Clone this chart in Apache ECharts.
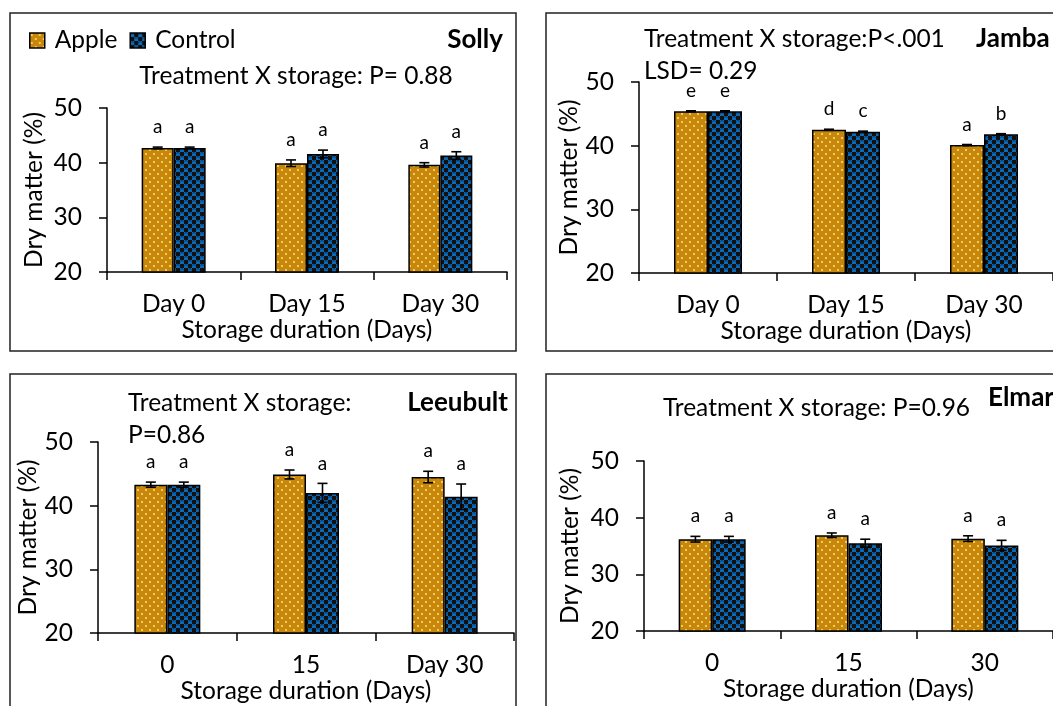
<!DOCTYPE html>
<html>
<head>
<meta charset="utf-8">
<script src="https://cdn.jsdelivr.net/npm/echarts@6/dist/echarts.min.js"></script>
<style>
  html, body { margin: 0; padding: 0; background: #fff; }
  #chart { width: 1053px; height: 706px; }
</style>
</head>
<body>
<div id="chart"></div>
<script>
// ---- data: dry matter (%) by storage duration, mean ± SE, with letter groups ----
const catsDay = ['Day 0', 'Day 15', 'Day 30'];
const catsLeeubult = ['0', '15', 'Day 30'];
const catsElmar = ['0', '15', '30'];
const yTicks = [20, 30, 40, 50];

const sollyApple = [42.7, 39.9, 39.6];
const sollyAppleErr = [0.15, 0.6, 0.4];
const sollyAppleLetters = ['a', 'a', 'a'];
const sollyControl = [42.7, 41.6, 41.3];
const sollyControlErr = [0.15, 0.7, 0.7];
const sollyControlLetters = ['a', 'a', 'a'];

const jambaApple = [45.4, 42.5, 40.1];
const jambaAppleErr = [0.08, 0.08, 0.08];
const jambaAppleLetters = ['e', 'd', 'a'];
const jambaControl = [45.4, 42.2, 41.8];
const jambaControlErr = [0.08, 0.08, 0.08];
const jambaControlLetters = ['e', 'c', 'b'];

const leeubultApple = [43.3, 44.9, 44.5];
const leeubultAppleErr = [0.4, 0.7, 0.9];
const leeubultAppleLetters = ['a', 'a', 'a'];
const leeubultControl = [43.3, 42.0, 41.4];
const leeubultControlErr = [0.4, 1.5, 2.0];
const leeubultControlLetters = ['a', 'a', 'a'];

const elmarApple = [36.2, 36.9, 36.3];
const elmarAppleErr = [0.5, 0.4, 0.5];
const elmarAppleLetters = ['a', 'a', 'a'];
const elmarControl = [36.2, 35.5, 35.1];
const elmarControlErr = [0.5, 0.7, 0.9];
const elmarControlLetters = ['a', 'a', 'a'];

// ---- fills ----
function makeApplePattern() {
  const c = document.createElement('canvas');
  c.width = 8; c.height = 8;
  const g = c.getContext('2d');
  g.fillStyle = '#C6870C';
  g.fillRect(0, 0, 8, 8);
  g.fillStyle = '#F3CB55';
  g.fillRect(1, 1, 2, 2);
  g.fillRect(5, 5, 2, 2);
  return c;
}
function makeControlPattern() {
  const c = document.createElement('canvas');
  c.width = 8; c.height = 8;
  const g = c.getContext('2d');
  g.fillStyle = '#0B6BB8';
  g.fillRect(0, 0, 8, 8);
  g.fillStyle = '#111';
  g.fillRect(4, 0, 4, 4);
  g.fillRect(0, 4, 4, 4);
  g.strokeStyle = '#06305a';
  g.lineWidth = 0.8;
  g.beginPath(); g.arc(2, 2.2, 1.6, Math.PI * 1.1, Math.PI * 1.9); g.stroke();
  g.beginPath(); g.arc(6, 6.2, 1.6, Math.PI * 1.1, Math.PI * 1.9); g.stroke();
  return c;
}
const appleFill = { image: makeApplePattern(), repeat: 'repeat' };
const controlFill = { image: makeControlPattern(), repeat: 'repeat' };

const FONT = 'Lato';
const FS = 24.5;
const FS_BOLD = 26;
const INK = '#000';

// ---- panel layout (plot rectangles in px) ----
const panels = [
  { cats: catsDay, grid: { left: 107, top: 108, width: 400, height: 164 }, barW: 32,
    apple: [sollyApple, sollyAppleErr, sollyAppleLetters], control: [sollyControl, sollyControlErr, sollyControlLetters],
    yNameGap: 60 },
  { cats: catsDay, grid: { left: 639, top: 82, width: 420, height: 191 }, barW: 34,
    apple: [jambaApple, jambaAppleErr, jambaAppleLetters], control: [jambaControl, jambaControlErr, jambaControlLetters],
    yNameGap: 55 },
  { cats: catsLeeubult, grid: { left: 98, top: 442, width: 416, height: 191 }, barW: 33,
    apple: [leeubultApple, leeubultAppleErr, leeubultAppleLetters], control: [leeubultControl, leeubultControlErr, leeubultControlLetters],
    yNameGap: 54 },
  { cats: catsElmar, grid: { left: 644, top: 461, width: 412, height: 170 }, barW: 33.5,
    apple: [elmarApple, elmarAppleErr, elmarAppleLetters], control: [elmarControl, elmarControlErr, elmarControlLetters],
    yNameGap: 61 }
];

const grids = [], xAxes = [], yAxes = [], series = [];

function errorSeries(name, idx, values, errs, letters, side, barW) {
  return {
    type: 'custom', name: name, xAxisIndex: idx, yAxisIndex: idx, z: 5, clip: false,
    data: values.map((v, i) => [i, v, errs[i]]),
    encode: { x: 0, y: 1 },
    renderItem: function (params, api) {
      const i = api.value(0), v = api.value(1), e = api.value(2);
      const hi = api.coord([i, v + e]);
      const lo = api.coord([i, v - e]);
      const x = hi[0] + side * barW / 2;
      const cap = 5;
      const st = { stroke: INK, lineWidth: 1.6 };
      return {
        type: 'group',
        children: [
          { type: 'line', shape: { x1: x, y1: hi[1], x2: x, y2: lo[1] }, style: st },
          { type: 'line', shape: { x1: x - cap, y1: hi[1], x2: x + cap, y2: hi[1] }, style: st },
          { type: 'line', shape: { x1: x - cap, y1: lo[1], x2: x + cap, y2: lo[1] }, style: st },
          { type: 'text', x: x, y: hi[1] - 20,
            style: { text: letters[params.dataIndex], fill: INK, font: '19px ' + FONT,
                     textAlign: 'center', textVerticalAlign: 'middle' } }
        ]
      };
    }
  };
}

panels.forEach((p, idx) => {
  grids.push(Object.assign({ containLabel: false }, p.grid));
  xAxes.push({
    type: 'category', gridIndex: idx, data: p.cats, boundaryGap: true,
    name: 'Storage duration (Days)', nameLocation: 'middle', nameGap: 46,
    nameTextStyle: { fontFamily: FONT, fontSize: FS, color: INK },
    axisLine: { lineStyle: { color: INK, width: 1.5 } },
    axisTick: { show: true, interval: 0, length: 8, lineStyle: { color: INK, width: 1.5 } },
    axisLabel: { interval: 0, margin: 20, fontFamily: FONT, fontSize: FS, color: INK },
    splitLine: { show: false }
  });
  yAxes.push({
    type: 'value', gridIndex: idx, min: yTicks[0], max: yTicks[yTicks.length - 1], interval: 10,
    name: 'Dry matter (%)', nameLocation: 'middle', nameGap: p.yNameGap, nameRotate: 90,
    nameTextStyle: { fontFamily: FONT, fontSize: FS, color: INK },
    axisLine: { show: true, lineStyle: { color: INK, width: 1.5 } },
    axisTick: { show: true, length: 8, lineStyle: { color: INK, width: 1.5 } },
    axisLabel: { margin: 25, fontFamily: FONT, fontSize: FS, color: INK },
    splitLine: { show: false }
  });
  const barCommon = { type: 'bar', xAxisIndex: idx, yAxisIndex: idx, barWidth: p.barW, barGap: '0%' };
  series.push(Object.assign({}, barCommon, {
    name: 'Apple', data: p.apple[0],
    itemStyle: { color: appleFill, borderColor: INK, borderWidth: 1.5 }
  }));
  series.push(Object.assign({}, barCommon, {
    name: 'Control', data: p.control[0],
    itemStyle: { color: controlFill, borderColor: INK, borderWidth: 1.5 }
  }));
  series.push(errorSeries('Apple', idx, p.apple[0], p.apple[1], p.apple[2], -1, p.barW));
  series.push(errorSeries('Control', idx, p.control[0], p.control[1], p.control[2], 1, p.barW));
});

function frame(x, y, w, h) {
  return { type: 'rect', shape: { x: x, y: y, width: w, height: h }, z: 0, silent: true,
           style: { fill: 'none', stroke: '#222', lineWidth: 1.5 } };
}
function label(text, x, y, align, bold) {
  return { type: 'text', x: x, y: y, z: 10, silent: true,
           style: { text: text, fill: INK, font: (bold ? 'bold ' + FS_BOLD : FS) + 'px ' + FONT,
                    textAlign: align, textVerticalAlign: 'middle' } };
}

const option = {
  backgroundColor: '#fff',
  animation: false,
  legend: {
    data: ['Apple', 'Control'], left: 29, top: 28, padding: 0,
    itemWidth: 15, itemHeight: 15, itemGap: 12,
    icon: 'rect',
    itemStyle: { borderColor: INK, borderWidth: 1.5 },
    textStyle: { fontFamily: FONT, fontSize: FS, color: INK, padding: [0, 0, 0, 5] }
  },
  grid: grids,
  xAxis: xAxes,
  yAxis: yAxes,
  series: series,
  graphic: [
    frame(10, 13, 506, 338),
    frame(546, 13, 520, 338),
    frame(10, 374, 506, 340),
    frame(546, 374, 520, 340),
    label('Solly', 503, 40, 'right', true),
    label('Treatment X storage: P= 0.88', 296, 76, 'center', false),
    label('Treatment X storage:P<.001', 644, 39, 'left', false),
    label('LSD= 0.29', 644, 71, 'left', false),
    label('Jamba', 976, 39, 'left', true),
    label('Treatment X storage:', 128, 403, 'left', false),
    label('P=0.86', 128, 435, 'left', false),
    label('Leeubult', 508, 403, 'right', true),
    label('Treatment X storage: P=0.96', 663, 408, 'left', false),
    label('Elmar', 988, 398, 'left', true)
  ]
};

const chart = echarts.init(document.getElementById('chart'), null, { renderer: 'canvas' });
chart.setOption(option);
</script>
</body>
</html>
